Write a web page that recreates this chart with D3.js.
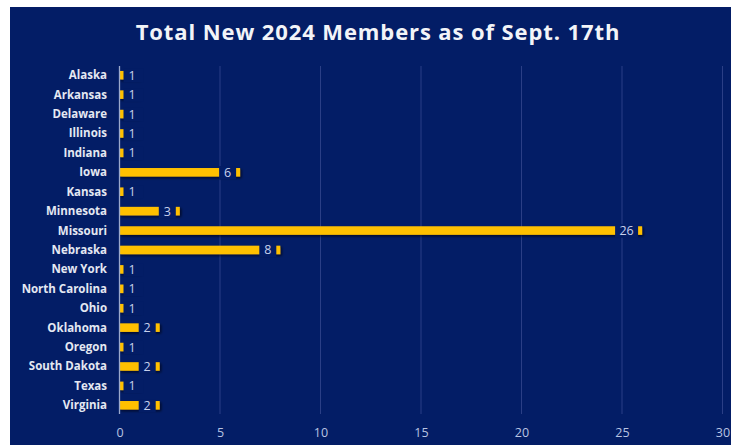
<!DOCTYPE html>
<html><head><meta charset="utf-8">
<script src="https://cdn.jsdelivr.net/npm/d3@7"></script>
<style>
html,body{margin:0;padding:0;background:#fff;}
svg{display:block;}
</style></head>
<body>
<svg id="chart" width="731" height="445"></svg>
<script>
const title = "Total New 2024 Members as of Sept. 17th";
const states = ["Alaska","Arkansas","Delaware","Illinois","Indiana","Iowa","Kansas","Minnesota","Missouri","Nebraska","New York","North Carolina","Ohio","Oklahoma","Oregon","South Dakota","Texas","Virginia"];
const members = [1,1,1,1,1,6,1,3,26,8,1,1,1,2,1,2,1,2];
const xTicks = [0,5,10,15,20,25,30];

const W = 731, H = 445;
const svg = d3.select("#chart");
const navy = "#031d66";

svg.append("rect").attr("x",10).attr("y",7).attr("width",W-10).attr("height",H-7).attr("fill",navy);

const defs = svg.append("defs");
const f = defs.append("filter").attr("id","sh").attr("x","-10%").attr("y","-30%").attr("width","130%").attr("height","190%");
f.append("feDropShadow").attr("dx",1.5).attr("dy",1.5).attr("stdDeviation",0.8).attr("flood-color","#000010").attr("flood-opacity",0.7);

svg.append("text").attr("x",378).attr("y",40).attr("text-anchor","middle")
  .attr("fill","#f2f4f8").attr("font-family","'Open Sans', 'Noto Sans', sans-serif")
  .attr("font-weight","bold").attr("font-size",22).attr("letter-spacing",0.9).text(title);

const x = d3.scaleLinear().domain([0,30]).range([119.5,722.5]);
const y = d3.scaleBand().domain(states).range([65.5,415]).paddingInner(0.56).paddingOuter(0.28);

// gridlines
svg.append("g").selectAll("line").data(xTicks.filter(t=>t>0)).join("line")
  .attr("x1",d=>x(d)).attr("x2",d=>x(d)).attr("y1",66).attr("y2",414)
  .attr("stroke","#2b3f86").attr("stroke-width",1);

// x axis tick labels
const xa = svg.append("g").attr("transform","translate(0,414)")
  .call(d3.axisBottom(x).tickValues(xTicks).tickSize(0).tickPadding(14));
xa.select(".domain").remove();
xa.selectAll("text").attr("fill","#b9c4e2").attr("font-size",12.5)
  .attr("font-family","'Open Sans', 'Noto Sans', sans-serif");

// bars
svg.append("g").selectAll("rect").data(states).join("rect")
  .attr("x",x(0)).attr("y",d=>y(d)).attr("height",y.bandwidth())
  .attr("width",(d,i)=>x(members[i])-x(0)).attr("fill","#ffc000").attr("filter","url(#sh)");

// label boxes + labels
const boxes = members.map(v=>{
  const w = v>=10 ? 23 : 17;
  let r = x(v)-4, l = r-w, tr = r;
  if (l < x(0)+4) { l = x(0)+4; tr = l+w; r = Math.max(tr, x(v)+4); }
  return {l,r,c:(l+tr)/2};
});
svg.append("g").selectAll("rect").data(states).join("rect")
  .attr("x",(d,i)=>boxes[i].l).attr("width",(d,i)=>boxes[i].r-boxes[i].l)
  .attr("y",d=>y(d)-2).attr("height",y.bandwidth()+5).attr("fill",navy);
svg.append("g").selectAll("text").data(states).join("text")
  .attr("x",(d,i)=>boxes[i].c).attr("y",d=>y(d)+y.bandwidth()/2+4.5)
  .attr("text-anchor","middle").attr("fill","#c8d1ec").attr("font-size",12.5)
  .attr("font-family","'Open Sans', 'Noto Sans', sans-serif")
  .text((d,i)=>members[i]);

// category axis line
svg.append("line").attr("x1",x(0)).attr("x2",x(0)).attr("y1",66).attr("y2",414)
  .attr("stroke","#9aa8cc").attr("stroke-width",1.3);

// category labels
svg.append("g").selectAll("text").data(states).join("text")
  .attr("x",107).attr("y",d=>y(d)+y.bandwidth()/2+4)
  .attr("text-anchor","end").attr("fill","#e4e8f2").attr("font-weight","bold")
  .attr("font-size",11.5).attr("font-family","'Open Sans', 'Noto Sans', sans-serif")
  .text(d=>d);
</script>
</body></html>
